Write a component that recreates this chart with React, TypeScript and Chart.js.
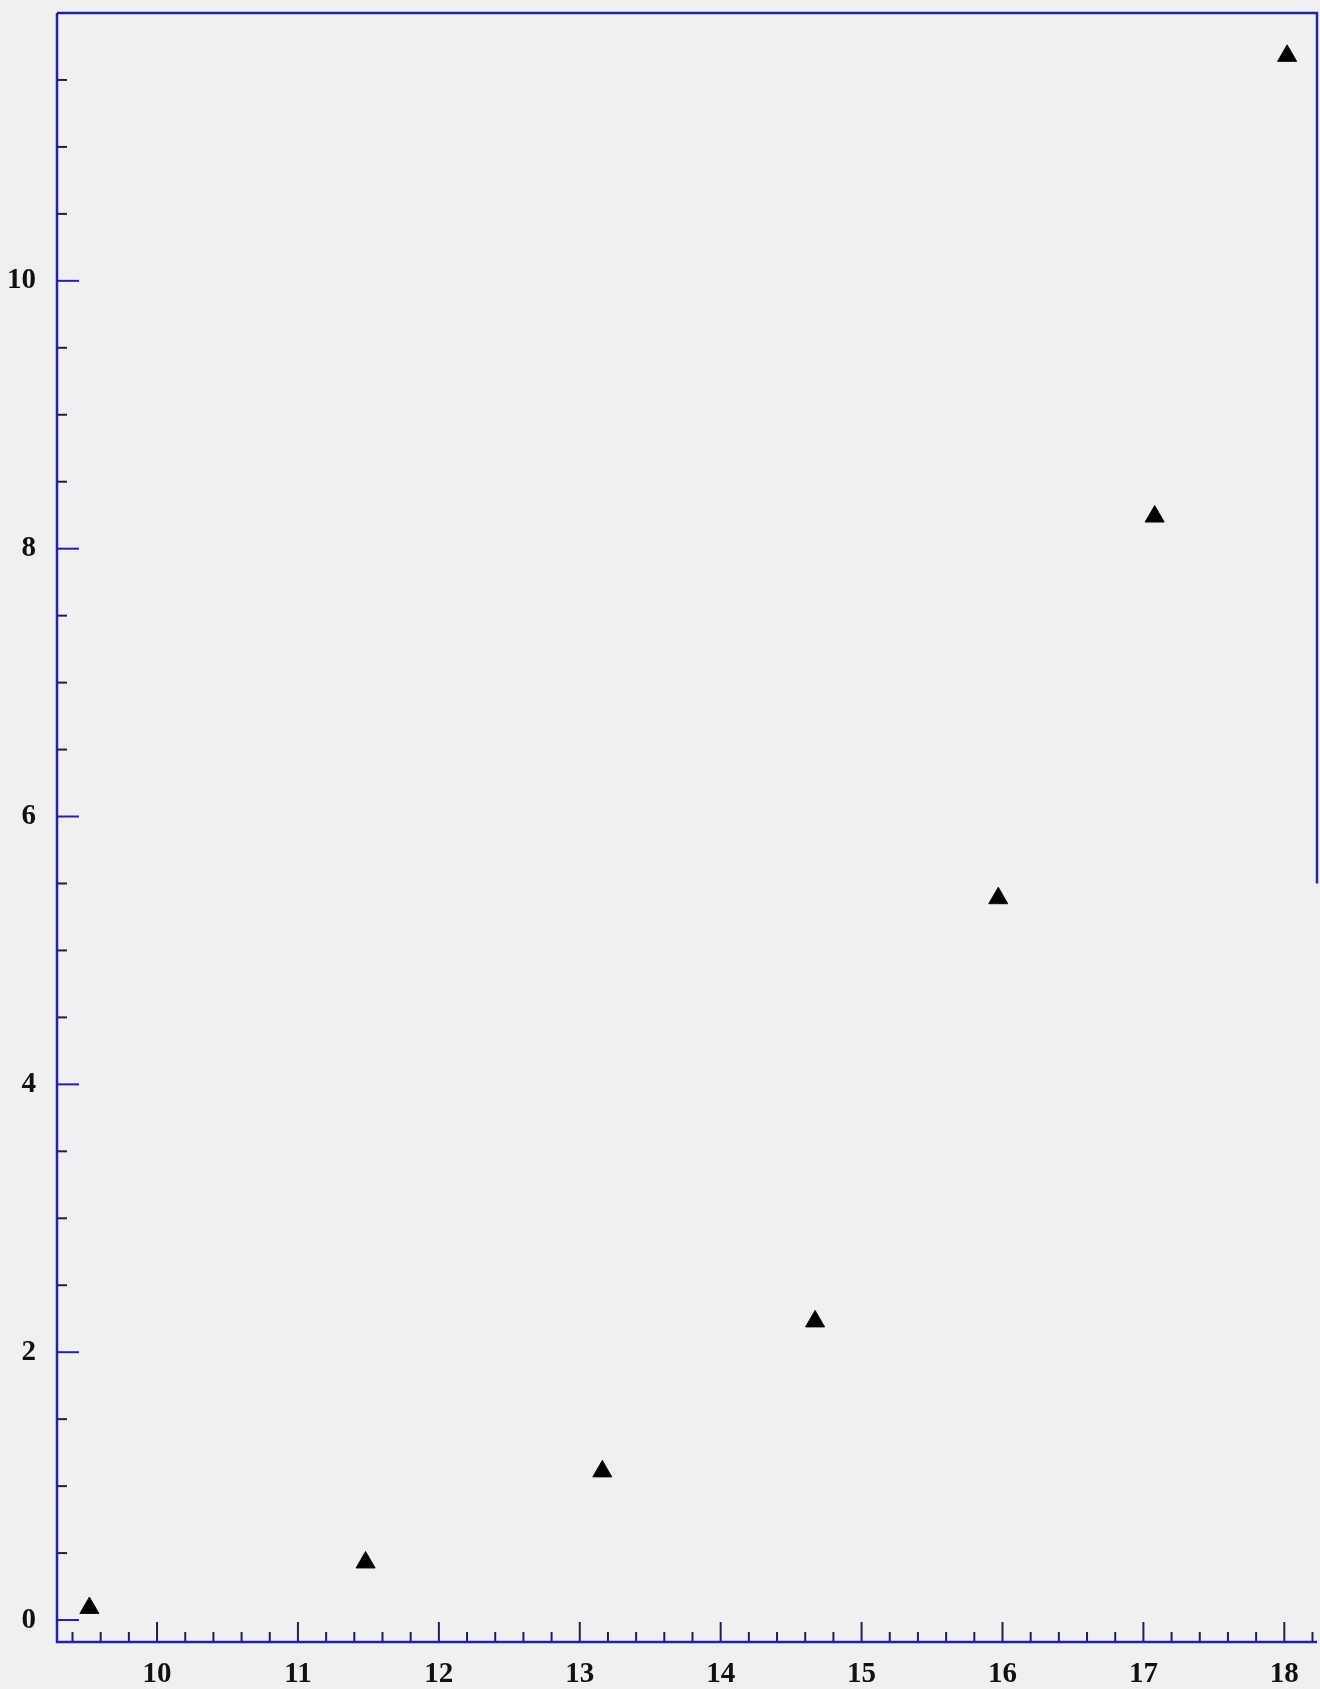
import React, { useEffect, useRef } from "react";
import { Chart, registerables } from "chart.js";

Chart.register(...registerables);

const xValues = [9.52, 11.48, 13.16, 14.67, 15.97, 17.08, 18.02];
const yValues = [0.09, 0.43, 1.11, 2.23, 5.39, 8.24, 11.68];

const xTickLabels = [10, 11, 12, 13, 14, 15, 16, 17, 18];
const yTickLabels = [0, 2, 4, 6, 8, 10];
const xMinorStep = 0.2;
const yMinorStep = 0.5;
const rightBorderEndValue = 5.5;

const X_MIN = 9.29;
const X_MAX = 18.232;
const Y_MIN = -0.164;
const Y_MAX = 12.0;

const BG = "#f0f0f3";
const AXIS = "#2323a6";
const TICK = "#1d1d5e";

const inwardTicks = {
  id: "inwardTicks",
  afterDraw(chart: any) {
    const { ctx, chartArea } = chart;
    const xs = chart.scales.x;
    const ys = chart.scales.y;
    ctx.save();
    ctx.lineCap = "butt";
    ctx.strokeStyle = TICK;
    ctx.lineWidth = 2;
    const x0 = Math.ceil(X_MIN / xMinorStep) * xMinorStep;
    for (let v = x0; v <= X_MAX + 1e-9; v += xMinorStep) {
      const r = Math.round(v * 100) / 100;
      const major = Math.abs(r - Math.round(r)) < 1e-6;
      const px = xs.getPixelForValue(r);
      const len = major ? 20 : 10;
      ctx.beginPath();
      ctx.moveTo(px, chartArea.bottom);
      ctx.lineTo(px, chartArea.bottom - len);
      ctx.stroke();
    }
    const y0 = Math.ceil(Y_MIN / yMinorStep) * yMinorStep;
    for (let v = y0; v < Y_MAX - 1e-6; v += yMinorStep) {
      const r = Math.round(v * 100) / 100;
      const major = yTickLabels.indexOf(r) >= 0;
      const py = ys.getPixelForValue(r);
      const len = major ? 22 : 10;
      ctx.strokeStyle = major ? AXIS : TICK;
      ctx.beginPath();
      ctx.moveTo(chartArea.left, py);
      ctx.lineTo(chartArea.left + len, py);
      ctx.stroke();
    }
    ctx.strokeStyle = AXIS;
    ctx.lineWidth = 2.5;
    ctx.beginPath();
    ctx.moveTo(chartArea.left, chartArea.top);
    ctx.lineTo(chartArea.left, chartArea.bottom);
    ctx.lineTo(chartArea.right, chartArea.bottom);
    ctx.stroke();
    ctx.beginPath();
    ctx.moveTo(chartArea.left, chartArea.top);
    ctx.lineTo(chartArea.right, chartArea.top);
    ctx.lineTo(chartArea.right, ys.getPixelForValue(rightBorderEndValue));
    ctx.stroke();
    ctx.restore();
  },
};

const zeroPad = (s: any) => {
  s.paddingTop = 0;
  s.paddingBottom = 0;
  s.paddingLeft = 0;
  s.paddingRight = 0;
};

const labelFont = { family: "'Liberation Serif', 'DejaVu Serif', serif", size: 29, weight: "bold" as const };

export default function App() {
  const ref = useRef<HTMLCanvasElement | null>(null);
  useEffect(() => {
    if (!ref.current) return;
    const chart = new Chart(ref.current, {
      type: "scatter",
      data: {
        datasets: [
          {
            data: xValues.map((x, i) => ({ x, y: yValues[i] })),
            pointStyle: "triangle",
            pointRadius: 11,
            pointBackgroundColor: "#000000",
            pointBorderColor: "#0a0a0a",
            pointBorderWidth: 1,
            clip: false as any,
          },
        ],
      },
      options: {
        animation: false,
        responsive: false,
        maintainAspectRatio: false,
        layout: { autoPadding: false, padding: { top: 13, right: 3, left: 0, bottom: 0 } },
        plugins: { legend: { display: false }, tooltip: { enabled: false } },
        scales: {
          x: {
            type: "linear",
            min: X_MIN,
            max: X_MAX,
            grid: { display: false, drawTicks: false },
            border: { display: false },
            afterBuildTicks: (s: any) => {
              s.ticks = xTickLabels.map((v) => ({ value: v }));
            },
            afterFit: (s: any) => {
              s.height = 47;
              zeroPad(s);
            },
            ticks: {
              autoSkip: false,
              maxRotation: 0,
              padding: 15,
              color: "#111111",
              font: labelFont,
            },
          },
          y: {
            type: "linear",
            min: Y_MIN,
            max: Y_MAX,
            grid: { display: false, drawTicks: false },
            border: { display: false },
            afterBuildTicks: (s: any) => {
              s.ticks = yTickLabels.map((v) => ({ value: v }));
            },
            afterFit: (s: any) => {
              s.width = 57;
              zeroPad(s);
            },
            ticks: {
              autoSkip: false,
              padding: 21,
              color: "#111111",
              font: labelFont,
            },
          },
        },
      },
      plugins: [inwardTicks],
    });
    return () => chart.destroy();
  }, []);
  return (
    <div style={{ position: "absolute", left: 0, top: 0, width: 1320, height: 1689, background: BG }}>
      <canvas ref={ref} width={1320} height={1689} style={{ display: "block", width: 1320, height: 1689 }} />
    </div>
  );
}
